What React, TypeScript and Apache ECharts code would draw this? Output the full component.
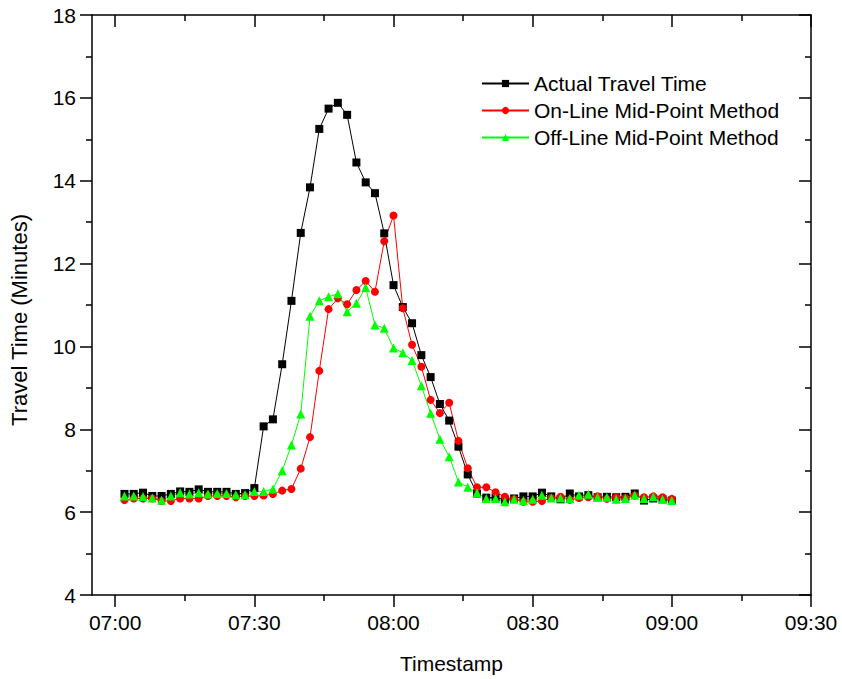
import React, { useEffect, useRef } from "react";
import * as echarts from "echarts";

// Sample times (every 2 minutes)
const TIME_LABELS = [
  "07:02", "07:04", "07:06", "07:08", "07:10", "07:12", "07:14", "07:16", "07:18", "07:20",
  "07:22", "07:24", "07:26", "07:28", "07:30", "07:32", "07:34", "07:36", "07:38", "07:40",
  "07:42", "07:44", "07:46", "07:48", "07:50", "07:52", "07:54", "07:56", "07:58", "08:00",
  "08:02", "08:04", "08:06", "08:08", "08:10", "08:12", "08:14", "08:16", "08:18", "08:20",
  "08:22", "08:24", "08:26", "08:28", "08:30", "08:32", "08:34", "08:36", "08:38", "08:40",
  "08:42", "08:44", "08:46", "08:48", "08:50", "08:52", "08:54", "08:56", "08:58", "09:00",
];

// Travel time in minutes
const ACTUAL_TRAVEL_TIME = [
  6.44, 6.44, 6.47, 6.39, 6.39, 6.44, 6.5, 6.49, 6.55, 6.49,
  6.49, 6.49, 6.44, 6.46, 6.58, 8.07, 8.24, 9.57, 11.1, 12.74,
  13.84, 15.25, 15.74, 15.88, 15.59, 14.44, 13.96, 13.7, 12.73, 11.48,
  10.95, 10.56, 9.79, 9.26, 8.61, 8.21, 7.58, 6.91, 6.45, 6.35,
  6.35, 6.3, 6.33, 6.38, 6.38, 6.47, 6.38, 6.31, 6.45, 6.38,
  6.41, 6.36, 6.37, 6.36, 6.37, 6.45, 6.28, 6.33, 6.31, 6.28,
];

const ONLINE_MIDPOINT = [
  6.29, 6.33, 6.33, 6.33, 6.27, 6.27, 6.33, 6.33, 6.33, 6.39,
  6.39, 6.39, 6.36, 6.39, 6.39, 6.4, 6.44, 6.52, 6.56, 7.05,
  7.81, 9.41, 10.9, 11.16, 11.02, 11.36, 11.58, 11.32, 12.54, 13.16,
  10.92, 10.04, 9.51, 8.71, 8.39, 8.64, 7.72, 7.06, 6.6, 6.6,
  6.48, 6.37, 6.31, 6.25, 6.25, 6.27, 6.34, 6.37, 6.3, 6.34,
  6.36, 6.38, 6.32, 6.36, 6.34, 6.4, 6.36, 6.38, 6.36, 6.32,
];

const OFFLINE_MIDPOINT = [
  6.39, 6.39, 6.38, 6.34, 6.29, 6.39, 6.47, 6.44, 6.47, 6.44,
  6.45, 6.45, 6.42, 6.42, 6.5, 6.5, 6.56, 7.0, 7.62, 8.37,
  10.73, 11.1, 11.2, 11.27, 10.84, 11.04, 11.42, 10.52, 10.44, 9.96,
  9.85, 9.66, 9.05, 8.39, 7.76, 7.34, 6.73, 6.6, 6.47, 6.33,
  6.33, 6.25, 6.31, 6.28, 6.31, 6.41, 6.34, 6.34, 6.33, 6.41,
  6.43, 6.36, 6.36, 6.31, 6.33, 6.41, 6.33, 6.37, 6.31, 6.28,
];

const X_MAJOR_TICKS = ["07:00", "07:30", "08:00", "08:30", "09:00", "09:30"];
const X_MINOR_TICKS = ["07:15", "07:45", "08:15", "08:45", "09:15"];
const X_START = "06:55";
const X_END = "09:30";

const FONT = "'Liberation Sans', Arial, Helvetica, sans-serif";

const toMinutes = (s: string) => {
  const [h, m] = s.split(":").map(Number);
  return h * 60 + m;
};
const pad = (n: number) => (n < 10 ? "0" + n : "" + n);
const fmtTime = (v: number) => pad(Math.floor(v / 60)) + ":" + pad(Math.round(v % 60));

export default function App() {
  const ref = useRef<HTMLDivElement>(null);

  useEffect(() => {
    if (!ref.current) return;
    const chart = echarts.init(ref.current, undefined, { renderer: "svg" });

    const xMin = toMinutes(X_START);
    const xMax = toMinutes(X_END);
    const major = X_MAJOR_TICKS.map(toMinutes);
    const minor = X_MINOR_TICKS.map(toMinutes);
    const axisColor = "#000";

    const baseX = {
      type: "value" as const,
      min: xMin,
      max: xMax,
      gridIndex: 0,
      splitLine: { show: false },
    };

    const mk = (vals: number[]) => TIME_LABELS.map((t, i) => [toMinutes(t), vals[i]]);

    chart.setOption({
      animation: false,
      backgroundColor: "#fff",
      textStyle: { fontFamily: FONT },
      grid: { left: 91, right: 31, top: 15, bottom: 84, containLabel: false },
      legend: {
        orient: "vertical",
        left: 476,
        top: 68,
        itemWidth: 47,
        itemHeight: 9,
        itemGap: 6,
        textStyle: { fontFamily: FONT, fontSize: 21, color: "#000", lineHeight: 21 },
        data: ["Actual Travel Time", "On-Line Mid-Point Method", "Off-Line Mid-Point Method"],
      },
      xAxis: [
        {
          ...baseX,
          position: "bottom",
          name: "Timestamp",
          nameLocation: "middle",
          nameGap: 58,
          nameTextStyle: { fontFamily: FONT, fontSize: 21, color: "#000" },
          axisLine: { show: true, onZero: false, lineStyle: { color: axisColor, width: 1.5 } },
          axisTick: { show: true, inside: false, length: 12, customValues: major, lineStyle: { color: axisColor, width: 1.5 } },
          axisLabel: {
            show: true,
            customValues: major,
            margin: 17,
            fontFamily: FONT,
            fontSize: 21,
            color: "#000",
            formatter: (v: number) => fmtTime(v),
          },
        },
        {
          ...baseX,
          position: "bottom",
          axisLine: { show: false, onZero: false },
          axisTick: { show: true, inside: false, length: 6, customValues: minor, lineStyle: { color: axisColor, width: 1.5 } },
          axisLabel: { show: false },
        },
        {
          ...baseX,
          position: "top",
          axisLine: { show: true, onZero: false, lineStyle: { color: axisColor, width: 1.5 } },
          axisTick: { show: true, inside: true, length: 12, customValues: major, lineStyle: { color: axisColor, width: 1.5 } },
          axisLabel: { show: false },
        },
        {
          ...baseX,
          position: "top",
          axisLine: { show: false, onZero: false },
          axisTick: { show: true, inside: true, length: 6, customValues: minor, lineStyle: { color: axisColor, width: 1.5 } },
          axisLabel: { show: false },
        },
      ],
      yAxis: [
        {
          type: "value",
          min: 4,
          max: 18,
          interval: 2,
          position: "left",
          name: "Travel Time (Minutes)",
          nameLocation: "middle",
          nameGap: 62,
          nameRotate: 90,
          nameTextStyle: { fontFamily: FONT, fontSize: 22, color: "#000", padding: [0, 30, 0, 0] },
          splitLine: { show: false },
          axisLine: { show: true, onZero: false, lineStyle: { color: axisColor, width: 1.5 } },
          axisTick: { show: true, inside: false, length: 12, lineStyle: { color: axisColor, width: 1.5 } },
          minorTick: { show: true, splitNumber: 2, length: 6, lineStyle: { color: axisColor, width: 1.5 } },
          axisLabel: { margin: 16, fontFamily: FONT, fontSize: 21, color: "#000" },
        },
        {
          type: "value",
          min: 4,
          max: 18,
          interval: 2,
          position: "right",
          splitLine: { show: false },
          axisLine: { show: true, onZero: false, lineStyle: { color: axisColor, width: 1.5 } },
          axisTick: { show: true, inside: true, length: 12, lineStyle: { color: axisColor, width: 1.5 } },
          minorTick: { show: true, splitNumber: 2, length: 6, lineStyle: { color: axisColor, width: 1.5 } },
          axisLabel: { show: false },
        },
      ],
      series: [
        {
          name: "Actual Travel Time",
          type: "line",
          xAxisIndex: 0,
          yAxisIndex: 0,
          data: mk(ACTUAL_TRAVEL_TIME),
          symbol: "rect",
          symbolSize: 8,
          showAllSymbol: true,
          lineStyle: { color: "#000", width: 1 },
          itemStyle: { color: "#000" },
        },
        {
          name: "On-Line Mid-Point Method",
          type: "line",
          xAxisIndex: 0,
          yAxisIndex: 0,
          data: mk(ONLINE_MIDPOINT),
          symbol: "circle",
          symbolSize: 8,
          showAllSymbol: true,
          lineStyle: { color: "#ff0000", width: 1 },
          itemStyle: { color: "#ff0000" },
        },
        {
          name: "Off-Line Mid-Point Method",
          type: "line",
          xAxisIndex: 0,
          yAxisIndex: 0,
          data: mk(OFFLINE_MIDPOINT),
          symbol: "triangle",
          symbolSize: 9,
          showAllSymbol: true,
          lineStyle: { color: "#00ff00", width: 1 },
          itemStyle: { color: "#00ff00" },
        },
      ],
    });

    return () => chart.dispose();
  }, []);

  return (
    <div
      ref={ref}
      style={{ position: "fixed", left: 0, top: 0, width: 842, height: 679, background: "#fff" }}
    />
  );
}
